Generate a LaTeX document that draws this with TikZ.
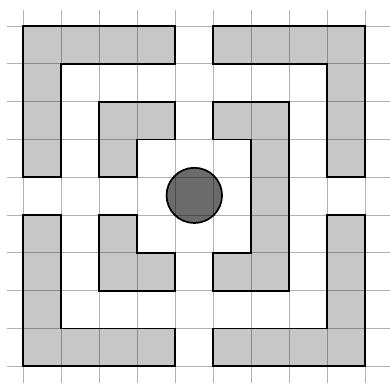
\documentclass[tikz,border=0pt]{standalone}
\begin{document}
\begin{tikzpicture}[x=1cm,y=0.995cm,line join=miter,
  block/.style={draw=black,line width=1.3pt,fill=black!22},
  disc/.style={draw=black,line width=1.3pt,fill=black!58},
  gridline/.style={draw=black,opacity=.3,line width=.6pt}]
\useasboundingbox (-0.613,-0.444) rectangle (9.65,9.688);
% outer corners
\draw[block] (0,9)--(4,9)--(4,8)--(1,8)--(1,5)--(0,5)--cycle;
\draw[block] (5,9)--(9,9)--(9,5)--(8,5)--(8,8)--(5,8)--cycle;
\draw[block] (0,4)--(1,4)--(1,1)--(4,1)--(4,0)--(0,0)--cycle;
\draw[block] (8,4)--(9,4)--(9,0)--(5,0)--(5,1)--(8,1)--cycle;
% inner pieces
\draw[block] (2,7)--(4,7)--(4,6)--(3,6)--(3,5)--(2,5)--cycle;
\draw[block] (2,4)--(3,4)--(3,3)--(4,3)--(4,2)--(2,2)--cycle;
\draw[block] (5,7)--(7,7)--(7,2)--(5,2)--(5,3)--(6,3)--(6,6)--(5,6)--cycle;
% centre
\draw[disc] (4.5,4.52) circle (0.73);
% grid on top
\foreach \i in {0,...,9} {
  \draw[gridline] (\i,-0.444)--(\i,9.42);
  \draw[gridline] (-0.43,\i)--(9.65,\i);
}
\end{tikzpicture}
\end{document}
